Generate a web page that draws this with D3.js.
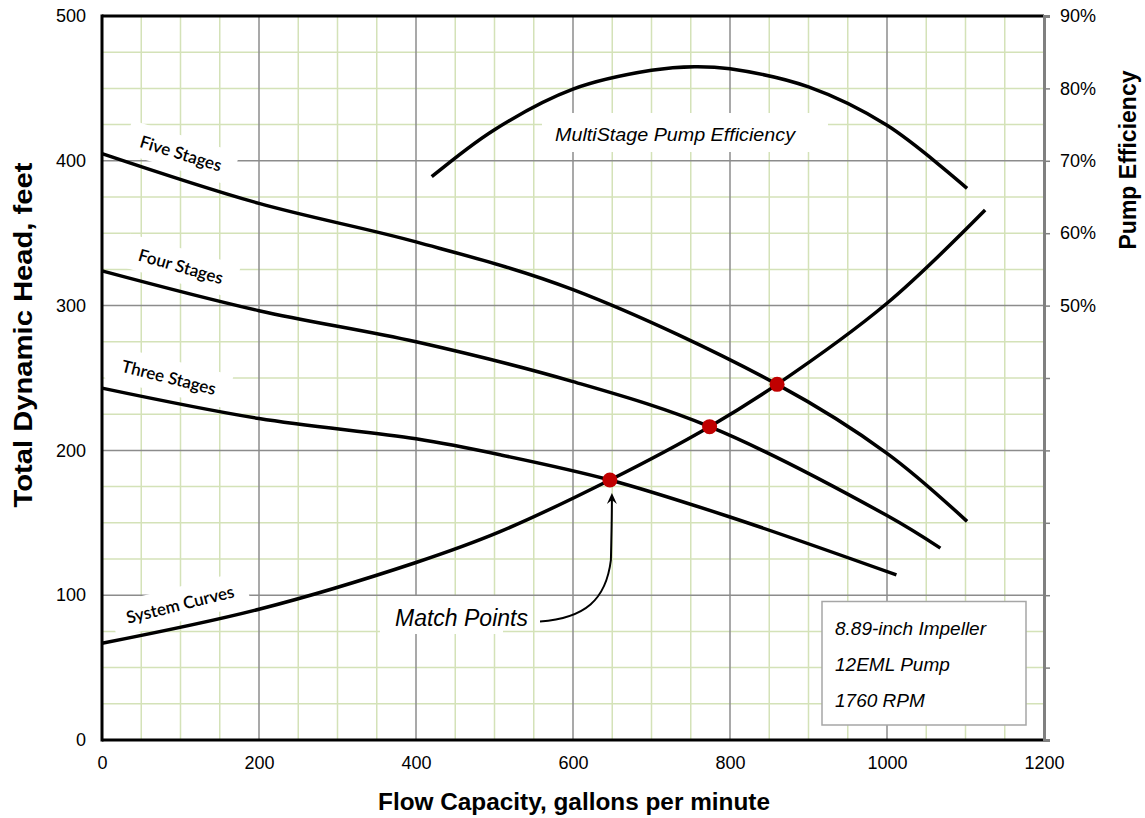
<!DOCTYPE html>
<html>
<head>
<meta charset="utf-8">
<script src="https://cdn.jsdelivr.net/npm/d3@7"></script>
<style>
  html, body { margin: 0; padding: 0; background: #fff; }
  svg { display: block; }
  text { font-family: Arial, "Liberation Sans", sans-serif; fill: #000; }
</style>
</head>
<body>
<svg id="chart" width="1145" height="818"></svg>
<script>
// ---- Data (flow in gpm, head in feet, efficiency in %) ----
const threeFlow = [0, 200, 400, 507, 647, 800, 1012];
const threeHead = [243, 222, 208, 197, 179.6, 154, 114];

const fourFlow = [0, 200, 400, 600, 774, 1000, 1068];
const fourHead = [324, 296.5, 275, 247.5, 216.4, 155, 132.5];

const fiveFlow = [0, 200, 400, 600, 860, 1000, 1102];
const fiveHead = [405, 370.6, 344, 311, 245.6, 198, 151];

const systemFlow = [0, 200, 400, 507, 647, 774, 860, 1000, 1125];
const systemHead = [66.8, 90.3, 122.6, 143.9, 179.6, 216.4, 245.6, 301.6, 366];

const effFlow = [420, 500, 600, 700, 755, 800, 900, 1000, 1102];
const effPct = [67.8, 74.3, 79.9, 82.5, 83.0, 82.7, 80.2, 74.9, 66.2];

const matchFlow = [647, 774, 860];
const matchHead = [179.6, 216.4, 245.6];

const xTicks = [0, 200, 400, 600, 800, 1000, 1200];
const yTicks = [0, 100, 200, 300, 400, 500];
const effTicks = [-10, 0, 10, 20, 30, 40, 50, 60, 70, 80, 90];
const effLabelled = [50, 60, 70, 80, 90];

const infoLines = ["8.89-inch Impeller", "12EML Pump", "1760 RPM"];

// ---- Layout ----
const svg = d3.select("#chart");
const m = { left: 102, top: 16, right: 1044, bottom: 740 };

const x = d3.scaleLinear().domain([0, 1200]).range([m.left, m.right]);
const y = d3.scaleLinear().domain([0, 500]).range([m.bottom, m.top]);
const yEff = d3.scaleLinear().domain([-10, 90]).range([m.bottom, m.top]);

// ---- Grid ----
const grid = svg.append("g");
const minorX = d3.range(50, 1200, 50).filter(v => v % 200 !== 0);
const minorY = d3.range(25, 500, 25).filter(v => v % 100 !== 0);
grid.selectAll(".mx").data(minorX).join("line")
  .attr("x1", d => x(d)).attr("x2", d => x(d))
  .attr("y1", m.top).attr("y2", m.bottom)
  .attr("stroke", "#d4e2b8").attr("stroke-width", 1.5);
grid.selectAll(".my").data(minorY).join("line")
  .attr("y1", d => y(d)).attr("y2", d => y(d))
  .attr("x1", m.left).attr("x2", m.right)
  .attr("stroke", "#d4e2b8").attr("stroke-width", 1.5);
grid.selectAll(".Mx").data(xTicks.filter(v => v > 0 && v < 1200)).join("line")
  .attr("x1", d => x(d)).attr("x2", d => x(d))
  .attr("y1", m.top).attr("y2", m.bottom)
  .attr("stroke", "#8c8c8c").attr("stroke-width", 1.5);
grid.selectAll(".My").data(yTicks.filter(v => v > 0 && v < 500)).join("line")
  .attr("y1", d => y(d)).attr("y2", d => y(d))
  .attr("x1", m.left).attr("x2", m.right)
  .attr("stroke", "#8c8c8c").attr("stroke-width", 1.5);

// ---- Rotated curve labels on white panels ----
function rotatedLabel(txt, cx, cy, angle, size) {
  const g = svg.append("g").attr("transform", `translate(${cx},${cy}) rotate(${angle})`);
  const rect = g.append("rect").attr("fill", "#fff");
  const t = g.append("text").text(txt)
    .attr("text-anchor", "middle").attr("dominant-baseline", "central")
    .style("font-family", "Lato, 'Open Sans', sans-serif")
    .style("font-weight", "600")
    .style("font-size", size + "px");
  const w = t.node().getComputedTextLength();
  rect.attr("x", -w / 2 - 14).attr("y", -17).attr("width", w + 28).attr("height", 34);
}

// ---- Curves ----
const line = d3.line().x(d => x(d[0])).y(d => y(d[1])).curve(d3.curveCatmullRom.alpha(0.5));
const effLine = d3.line().x(d => x(d[0])).y(d => yEff(d[1])).curve(d3.curveCatmullRom.alpha(0.5));

const zip = (a, b) => a.map((v, i) => [v, b[i]]);

// White panels behind labels first, then curves on top
rotatedLabel("Five Stages", 181, 153, 17, 17);
rotatedLabel("Four Stages", 181, 266, 16, 17);
rotatedLabel("Three Stages", 169, 377, 14, 17);
rotatedLabel("System Curves", 180, 604, -14, 17);

// Efficiency curve caption
svg.append("rect").attr("x", 542).attr("y", 113).attr("width", 286).attr("height", 39).attr("fill", "#fff");
svg.append("text").text("MultiStage Pump Efficiency")
  .attr("x", 555).attr("y", 141)
  .attr("textLength", 240).attr("lengthAdjust", "spacingAndGlyphs")
  .style("font-style", "italic").style("font-size", "18.5px");

// Match Points caption
svg.append("rect").attr("x", 380).attr("y", 596).attr("width", 123).attr("height", 38).attr("fill", "#fff");
svg.append("text").text("Match Points")
  .attr("x", 395).attr("y", 626)
  .style("font-style", "italic").style("font-size", "23px");

const curves = svg.append("g").attr("fill", "none").attr("stroke", "#000")
  .attr("stroke-width", 3.5).attr("stroke-linecap", "butt");
[[threeFlow, threeHead], [fourFlow, fourHead], [fiveFlow, fiveHead], [systemFlow, systemHead]]
  .forEach(([f, h]) => curves.append("path").attr("d", line(zip(f, h))));
curves.append("path").attr("d", effLine(zip(effFlow, effPct)));

// ---- Arrow to the three-stage match point ----
const tip = [x(matchFlow[0]) + 2, y(matchHead[0]) + 13];
const arrowPath = d3.path();
arrowPath.moveTo(540, 621.5);
arrowPath.bezierCurveTo(585, 618, 606, 600, tip[0] - 1, 560);
arrowPath.bezierCurveTo(tip[0] - 0.5, 540, tip[0], 520, tip[0], tip[1] + 6);
svg.append("path").attr("d", arrowPath.toString())
  .attr("fill", "none").attr("stroke", "#000").attr("stroke-width", 2);
svg.append("path")
  .attr("d", `M${tip[0]},${tip[1]} L${tip[0] - 5},${tip[1] + 11} L${tip[0]},${tip[1] + 7} L${tip[0] + 5},${tip[1] + 11} Z`)
  .attr("fill", "#000");

// ---- Match points ----
svg.selectAll(".mp").data(zip(matchFlow, matchHead)).join("circle")
  .attr("cx", d => x(d[0])).attr("cy", d => y(d[1])).attr("r", 7.5)
  .attr("fill", "#c00000");

// ---- Info box ----
svg.append("rect").attr("x", 822).attr("y", 601.5).attr("width", 204).attr("height", 123.5)
  .attr("fill", "#fff").attr("stroke", "#a6a6a6").attr("stroke-width", 1.5);
svg.selectAll(".info").data(infoLines).join("text")
  .text(d => d)
  .attr("x", 835).attr("y", (d, i) => 635 + i * 36)
  .style("font-style", "italic").style("font-size", "19px");

// ---- Frame ----
svg.append("line").attr("x1", m.left).attr("x2", m.right).attr("y1", m.top).attr("y2", m.top)
  .attr("stroke", "#000").attr("stroke-width", 3);
svg.append("line").attr("x1", m.left).attr("x2", m.right).attr("y1", m.bottom).attr("y2", m.bottom)
  .attr("stroke", "#000").attr("stroke-width", 3);
svg.append("line").attr("x1", m.left).attr("x2", m.left).attr("y1", m.top - 1.5).attr("y2", m.bottom + 1.5)
  .attr("stroke", "#000").attr("stroke-width", 3);

// ---- Axes ----
const fontSize = "18px";
const fam = "Arial, 'Liberation Sans', sans-serif";
const xAxis = svg.append("g").attr("transform", `translate(0,${m.bottom})`)
  .call(d3.axisBottom(x).tickValues(xTicks).tickFormat(d3.format("d")).tickSize(0).tickPadding(16));
xAxis.select(".domain").remove();
xAxis.selectAll("text").style("font-size", fontSize).style("font-family", fam);

const yAxis = svg.append("g").attr("transform", `translate(${m.left},0)`)
  .call(d3.axisLeft(y).tickValues(yTicks).tickFormat(d3.format("d")).tickSize(0).tickPadding(16));
yAxis.select(".domain").remove();
yAxis.selectAll("text").style("font-size", fontSize).style("font-family", fam);

const rAxis = svg.append("g").attr("transform", `translate(${m.right},0)`)
  .call(d3.axisRight(yEff).tickValues(effTicks).tickSize(6).tickPadding(10)
    .tickFormat(d => effLabelled.includes(d) ? d + "%" : ""));
rAxis.select(".domain").attr("stroke", "#808080").attr("stroke-width", 3);
rAxis.selectAll(".tick line").attr("stroke", "#808080").attr("stroke-width", 1.5);
rAxis.selectAll("text").style("font-size", fontSize).style("font-family", fam);

// ---- Axis titles ----
svg.append("text").text("Flow Capacity, gallons per minute")
  .attr("x", 574).attr("y", 810).attr("text-anchor", "middle")
  .attr("textLength", 392).attr("lengthAdjust", "spacingAndGlyphs")
  .style("font-weight", "bold").style("font-size", "24px");
svg.append("text").text("Total Dynamic Head, feet")
  .attr("transform", "translate(32,335) rotate(-90)").attr("text-anchor", "middle")
  .attr("textLength", 345).attr("lengthAdjust", "spacingAndGlyphs")
  .style("font-weight", "bold").style("font-size", "25px");
svg.append("text").text("Pump Efficiency")
  .attr("transform", "translate(1136,160) rotate(-90)").attr("text-anchor", "middle")
  .style("font-weight", "bold").style("font-size", "23px");
</script>
</body>
</html>
